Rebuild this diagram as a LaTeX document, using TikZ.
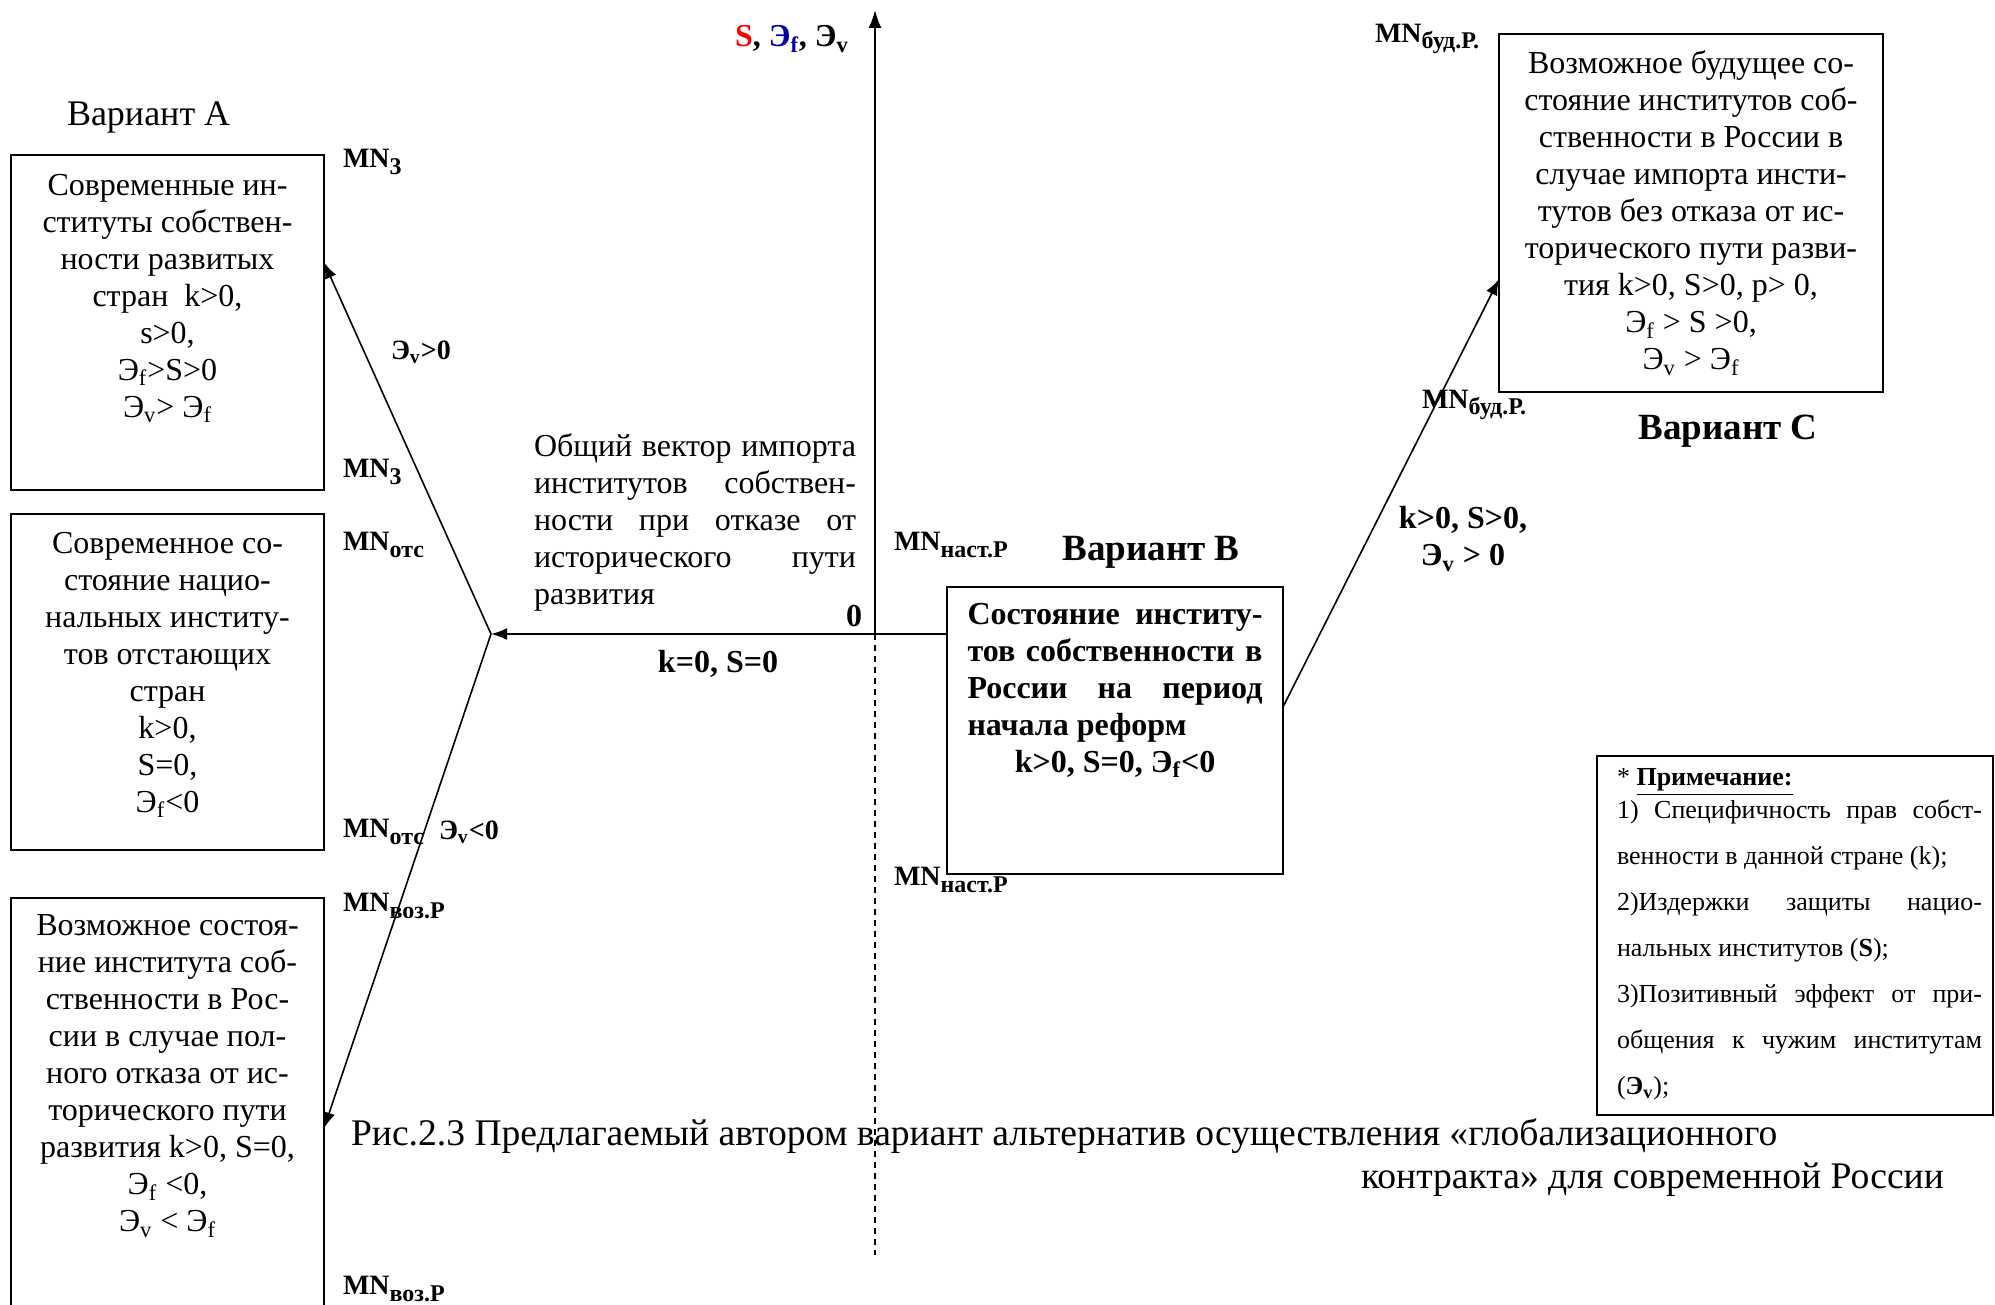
\documentclass[tikz,border=0pt]{standalone}
\usepackage{fontspec}
\setmainfont{Liberation Serif}
\usepackage{tikz}
\usetikzlibrary{arrows.meta}
\definecolor{efblue}{RGB}{0,0,160}
\newcommand{\Ef}{Э\textsubscript{f}}
\newcommand{\Ev}{Э\textsubscript{v}}
\newcommand{\MN}[1]{MN\raisebox{-0.22em}{\fontsize{12}{13}\selectfont #1}}
\tikzstyle{frame}=[draw, line width=1pt, inner sep=0, outer sep=0]
\tikzstyle{boxtext}=[font=\fontsize{16}{18.5}\selectfont, align=center, anchor=north]
\tikzstyle{mnlabel}=[font=\fontsize{14}{16}\selectfont\bfseries, anchor=west]
\tikzstyle{boldlabel}=[font=\fontsize{16}{18.5}\selectfont\bfseries, align=center]
\tikzstyle{variant}=[font=\fontsize{18}{21}\selectfont]
\tikzstyle{boldvariant}=[font=\fontsize{18.5}{21}\selectfont\bfseries]
\tikzstyle{caption}=[font=\fontsize{18.8}{22}\selectfont, anchor=west]
\tikzstyle{arr}=[line width=0.8pt, -{Latex[length=8pt, width=6pt]}]
\tikzstyle{schema}=[x=0.5pt, y=-0.5pt,
                    % no padding, positions are taken from the page
                    every node/.style={inner sep=0, outer sep=0}]

\begin{document}
\begin{tikzpicture}[schema]
    \useasboundingbox (0, 0) rectangle (1995, 1305);
    \clip (0, 0) rectangle (1995, 1305);
    % frames
    \node[frame, minimum width=156.5pt, minimum height=167.5pt] (boxA) at (167.5, 322.5) {};
    \node[frame, minimum width=156.5pt, minimum height=168pt] (boxL) at (167.5, 682) {};
    \node[frame, minimum width=156.5pt, minimum height=211pt] (boxR) at (167.5, 1109) {};
    \node[frame, minimum width=168pt, minimum height=143.5pt] (boxB) at (1115, 730.5) {};
    \node[frame, minimum width=192pt, minimum height=179pt] (boxC) at (1691, 213) {};
    \node[frame, minimum width=198pt, minimum height=179.5pt] (note) at (1795, 935.5) {};
    % texts in frames
    \node[boxtext] (txtA) at ([yshift=-9.5pt]boxA.north) {Современные ин-\\ституты собствен-\\ности развитых\\стран\ \ k>0,\\s>0,\\\Ef>S>0\\\Ev> \Ef};
    \node[boxtext] (txtL) at ([yshift=-9pt]boxL.north) {Современное со-\\стояние нацио-\\нальных институ-\\тов отстающих\\стран\\k>0,\\S=0,\\\Ef<0};
    \node[boxtext] (txtR) at ([yshift=-8.5pt]boxR.north) {Возможное состоя-\\ние института соб-\\ственности в Рос-\\сии в случае пол-\\ного отказа от ис-\\торического пути\\развития k>0, S=0,\\\Ef{} <0,\\\Ev{} < \Ef};
    \node[boxtext, font=\fontsize{16}{18.5}\selectfont\bfseries, align=justify, text width=147.5pt] (txtB) at ([yshift=-8pt]boxB.north) {Состояние институ-\linebreak тов собственности в\linebreak России на период\linebreak начала реформ\\\makebox[147.5pt]{k>0, S=0, \Ef<0}};
    \node[boxtext] (txtC) at ([yshift=-8.5pt]boxC.north) {Возможное будущее со-\\стояние институтов соб-\\ственности в России в\\случае импорта инсти-\\тутов без отказа от ис-\\торического пути разви-\\тия k>0, S>0, p> 0,\\\Ef{} > S >0,\\\Ev{} > \Ef};
    \node[font=\fontsize{13}{15}\selectfont, anchor=west] (notehead) at (1617, 782) {* \textbf{\underline{Примечание:}}};
    \node[font=\fontsize{13}{23}\selectfont, align=justify, text width=182.5pt, anchor=north west] (notebody) at (1617, 800) {1) Специфичность прав собст-\linebreak венности в данной стране (k);\\2)Издержки защиты нацио-\linebreak нальных институтов (\textbf{S});\\3)Позитивный эффект от при-\linebreak общения к чужим институтам\linebreak (\textbf{\Ev});};
    \node[font=\fontsize{16}{18.5}\selectfont, align=justify, text width=161pt, anchor=north west] (vecText) at (534, 434) {Общий вектор импорта\linebreak институтов собствен-\linebreak ности при отказе от\linebreak исторического пути\linebreak развития};
    % labels
    \node[variant, anchor=west] (varA) at (67, 117) {Вариант А};
    \node[boldvariant] (varB) at (1151, 552) {Вариант В};
    \node[boldvariant] (varC) at (1728, 431) {Вариант С};
    \node[mnlabel] (mnZtop) at (343, 162) {\MN{3}};
    \node[mnlabel] (mnZbot) at (343, 472) {\MN{3}};
    \node[mnlabel] (mnOtop) at (343, 545) {\MN{отс}};
    \node[mnlabel] (mnObot) at (343, 832) {\MN{отс}};
    \node[mnlabel] (mnVtop) at (343, 906) {\MN{воз.Р}};
    \node[mnlabel] (mnVbot) at (343, 1289) {\MN{воз.Р}};
    \node[mnlabel] (mnNtop) at (894, 545) {\MN{наст.Р}};
    \node[mnlabel] (mnNbot) at (894, 880) {\MN{наст.Р}};
    \node[mnlabel] (mnBtop) at (1375, 39) {\MN{буд.Р.}};
    \node[mnlabel] (mnBbot) at (1422, 405) {\MN{буд.Р.}};
    \node[mnlabel] (evPos) at (391, 352) {\Ev>0};
    \node[mnlabel] (evNeg) at (439, 832) {\Ev<0};
    \node[boldlabel, anchor=west] (axlabel) at (735, 39) {\textcolor{red}{S}, \textcolor{efblue}{\Ef}, \Ev};
    \node[boldlabel] (zero) at (854, 616) {0};
    \node[boldlabel] (kzero) at (718, 664) {k=0, S=0};
    \node[boldlabel] (kpos) at (1463, 539) {k>0, S>0,\\\Ev{} > 0};
    % caption
    \node[caption] (cap1) at (351, 1136) {Рис.2.3 Предлагаемый автором вариант альтернатив осуществления «глобализационного};
    \node[caption] (cap2) at (1361, 1180) {контракта» для современной России};
    % axes and vectors
    \coordinate (O) at (875, 634);
    \coordinate (axtop) at (875, 10);
    \coordinate (axbot) at (875, 1255);
    \coordinate (J) at (491, 634);
    \draw[line width=1pt, -{Latex[length=9pt, width=6.5pt]}] (O) -- (axtop);
    \draw[line width=1.1pt, dash pattern=on 3pt off 2.5pt] (O) -- (axbot);
    \draw[arr, line width=1pt] (boxB.west |- O) -- (J);
    \draw[arr] (J) -- (boxA.21);
    \draw[arr] (J) -- (boxR.-7);
    \draw[arr] (boxB.8) -- (boxC.199);
\end{tikzpicture}
\end{document}
